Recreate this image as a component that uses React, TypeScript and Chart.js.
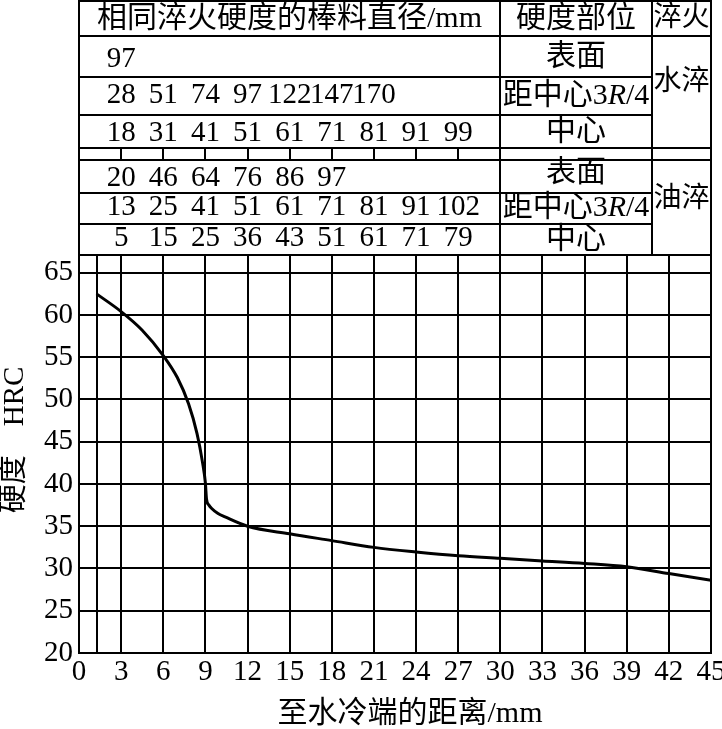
import React, { useEffect, useRef } from 'react';
import { Chart, registerables } from 'chart.js';

Chart.register(...registerables);

// Jominy end-quench hardenability curve
const distanceMm = [1.25, 3, 4.5, 6, 7.0, 7.8, 8.4, 8.8, 9.0, 9.08, 9.25, 9.45, 9.9, 10.4, 12, 15, 18, 21, 24, 27, 30, 33, 36, 39, 42, 45];
const hardnessHRC = [62.5, 60.4, 58.2, 55.2, 52.6, 49.5, 46.0, 42.5, 40.1, 38.2, 37.5, 37.1, 36.5, 36.1, 35.0, 34.1, 33.3, 32.5, 31.95, 31.5, 31.2, 30.9, 30.6, 30.2, 29.4, 28.6];

const xTickValues = [0, 1.25, 3, 6, 9, 12, 15, 18, 21, 24, 27, 30, 33, 36, 39, 42, 45];
const yTickValues = [20, 25, 30, 35, 40, 45, 50, 55, 60, 65];

// Table: bar diameters with equal quench hardness, at end-quench distances
const tableDistances = [3, 6, 9, 12, 15, 18, 21, 24, 27];
const waterSurface = [97];
const waterThreeQuarter = [28, 51, 74, 97, 122, 147, 170];
const waterCenter = [18, 31, 41, 51, 61, 71, 81, 91, 99];
const oilSurface = [20, 46, 64, 76, 86, 97];
const oilThreeQuarter = [13, 25, 41, 51, 61, 71, 81, 91, 102];
const oilCenter = [5, 15, 25, 36, 43, 51, 61, 71, 79];

const headerDiameter = '相同淬火硬度的棒料直径/mm';
const headerPosition = '硬度部位';
const headerQuench = '淬火';
const positionLabels = ['表面', '距中心3R/4', '中心'];
const waterLabel = '水淬';
const oilLabel = '油淬';
const xTitle = '至水冷端的距离/mm';
const yTitle = '硬度\u3000HRC';

const SERIF = "'Liberation Serif', 'Noto Sans CJK SC', serif";
const NUM_SIZE = 29;

const tablePlugin = {
  id: 'hardnessTable',
  afterDraw(chart: any) {
    const { ctx, chartArea, scales } = chart;
    const xs = scales.x;
    const L = chartArea.left;
    const R = chartArea.right;
    const B = chartArea.top;
    const colA = Math.round(xs.getPixelForValue(30));
    const colB = 652;
    const rows = [1, 36, 77, 115, 148, 160, 193, 224, B];

    ctx.save();
    ctx.strokeStyle = '#000';
    ctx.lineWidth = 2;
    ctx.lineCap = 'square';
    const line = (x1: number, y1: number, x2: number, y2: number) => {
      ctx.beginPath();
      ctx.moveTo(x1, y1);
      ctx.lineTo(x2, y2);
      ctx.stroke();
    };
    line(L, rows[0], R, rows[0]);
    line(L, rows[0], L, B);
    line(R, rows[0], R, B);
    line(colA, rows[0], colA, B);
    line(colB, rows[0], colB, B);
    line(L, rows[1], R, rows[1]);
    line(L, rows[2], colB, rows[2]);
    line(L, rows[3], colB, rows[3]);
    line(L, rows[4], R, rows[4]);
    line(L, rows[5], R, rows[5]);
    line(L, rows[6], colB, rows[6]);
    line(L, rows[7], colB, rows[7]);
    line(L, B, R, B);
    tableDistances.forEach((d) => {
      const x = Math.round(xs.getPixelForValue(d));
      line(x, rows[4], x, rows[5]);
    });

    ctx.fillStyle = '#000';
    ctx.textBaseline = 'middle';
    const text = (s: string, x: number, y: number, size: number, align: CanvasTextAlign = 'center') => {
      ctx.font = `${size}px ${SERIF}`;
      ctx.textAlign = align;
      ctx.fillText(s, x, y);
    };
    const posLabel = (s: string, cx: number, cy: number, size: number) => {
      const parts = s.split(/(R)/).filter((p) => p.length > 0);
      const fonts = parts.map((p) => (p === 'R' ? `italic ${size}px ${SERIF}` : `${size}px ${SERIF}`));
      let total = 0;
      const widths = parts.map((p, i) => {
        ctx.font = fonts[i];
        const w = ctx.measureText(p).width;
        total += w;
        return w;
      });
      let x = cx - total / 2;
      ctx.textAlign = 'left';
      parts.forEach((p, i) => {
        ctx.font = fonts[i];
        ctx.fillText(p, x, cy);
        x += widths[i];
      });
    };

    // header
    text(headerDiameter, (L + colA) / 2, 19, 30);
    text(headerPosition, (colA + colB) / 2, 19, 30);
    text(headerQuench, (colB + R) / 2, 19, 28);

    const posX = (colA + colB) / 2;
    const quenchX = (colB + R) / 2;
    // water
    posLabel(positionLabels[0], posX, 57, 30);
    posLabel(positionLabels[1], posX, 96, 30);
    posLabel(positionLabels[2], posX, 132, 30);
    text(waterLabel, quenchX, 83, 28);
    // oil
    posLabel(positionLabels[0], posX, 173, 30);
    posLabel(positionLabels[1], posX, 208, 30);
    posLabel(positionLabels[2], posX, 240, 30);
    text(oilLabel, quenchX, 200, 28);

    const numRow = (vals: number[], y: number) => {
      vals.forEach((v, i) => text(String(v), xs.getPixelForValue(tableDistances[i]), y, NUM_SIZE));
    };
    numRow(waterSurface, 59);
    numRow(waterThreeQuarter, 95);
    numRow(waterCenter, 133);
    numRow(oilSurface, 178);
    numRow(oilThreeQuarter, 207);
    numRow(oilCenter, 238);

    // axis titles
    text(xTitle, 410, 714, 30);
    ctx.save();
    ctx.translate(15, 440);
    ctx.rotate(-Math.PI / 2);
    text(yTitle, 0, 0, 29);
    ctx.restore();

    ctx.restore();
  },
};

export default function App() {
  const canvasRef = useRef<HTMLCanvasElement | null>(null);

  useEffect(() => {
    const canvas = canvasRef.current;
    if (!canvas) return;
    const chart = new Chart(canvas, {
      type: 'line',
      data: {
        datasets: [
          {
            data: distanceMm.map((x, i) => ({ x, y: hardnessHRC[i] })),
            borderColor: '#000',
            borderWidth: 3,
            pointRadius: 0,
            fill: false,
            cubicInterpolationMode: 'monotone',
          },
        ],
      },
      options: {
        animation: false,
        responsive: false,
        devicePixelRatio: 1,
        layout: { padding: { top: 255, right: 11, left: 0, bottom: 0 } },
        plugins: { legend: { display: false }, tooltip: { enabled: false } },
        scales: {
          x: {
            type: 'linear',
            min: 0,
            max: 45,
            afterBuildTicks: (s: any) => {
              s.ticks = xTickValues.map((v) => ({ value: v }));
            },
            afterFit: (s: any) => {
              s.height = 76;
              s.paddingLeft = 0;
              s.paddingRight = 0;
            },
            grid: { color: '#000', lineWidth: 2, drawTicks: false },
            border: { color: '#000', width: 2 },
            ticks: {
              autoSkip: false,
              maxRotation: 0,
              padding: 2,
              color: '#000',
              font: { family: SERIF, size: NUM_SIZE },
              callback: (v: any) => (v === 1.25 ? '' : String(v)),
            },
          },
          y: {
            type: 'linear',
            min: 20,
            max: 67.1,
            afterBuildTicks: (s: any) => {
              s.ticks = yTickValues.map((v) => ({ value: v }));
            },
            afterFit: (s: any) => {
              s.width = 79;
              s.paddingTop = 0;
              s.paddingBottom = 0;
            },
            grid: { color: '#000', lineWidth: 2, drawTicks: false },
            border: { color: '#000', width: 2 },
            ticks: {
              padding: 6,
              color: '#000',
              font: { family: SERIF, size: NUM_SIZE },
              callback: (v: any) => String(v),
            },
          },
        },
      } as any,
      plugins: [tablePlugin],
    });
    return () => chart.destroy();
  }, []);

  return (
    <div style={{ position: 'absolute', left: 0, top: 0, width: 722, height: 729, background: '#fff' }}>
      <canvas ref={canvasRef} width={722} height={729} style={{ display: 'block' }} />
    </div>
  );
}
